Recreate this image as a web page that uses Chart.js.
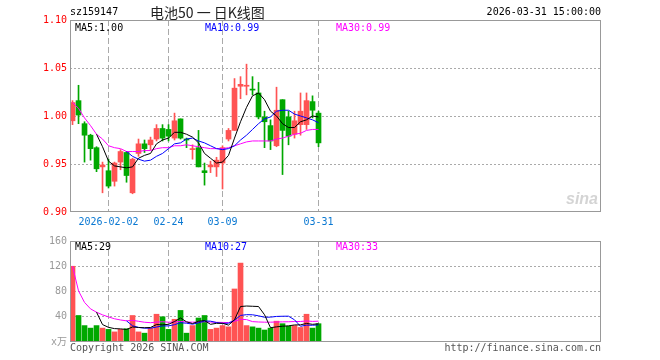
<!DOCTYPE html>
<html lang="zh-CN">
<head>
<meta charset="utf-8">
<title>电池50 日K线图</title>
<script src="https://cdn.jsdelivr.net/npm/chart.js@4.4.1/dist/chart.umd.min.js"></script>
<style>
    html, body { margin: 0; padding: 0; background: #fff; }
    #wrap {
        position: relative;
        width: 660px;
        height: 360px;
        overflow: hidden;
        font-family: "DejaVu Sans Mono", monospace;
        font-size: 10px;
    }
    #wrap canvas { position: absolute; left: 0; }
    .txt { position: absolute; white-space: pre; line-height: 12px; }
    .title { font-family: "Noto Sans CJK SC", sans-serif; font-size: 14px; line-height: 16px; color: #222; }
    .foot { color: #555; }
    .sina { font-family: "Liberation Sans", sans-serif; font-style: italic; font-weight: bold; font-size: 16px; color: #d4d4d4; line-height: 18px; }
</style>
</head>
<body>
<div id="wrap">
    <canvas id="priceChart" width="660" height="230" style="top:0"></canvas>
    <canvas id="volumeChart" width="660" height="130" style="top:230px"></canvas>

    <div class="txt" style="left:70px;top:6px;">sz159147</div>
    <div class="txt title" style="left:150px;top:4px;">电池50 一 日K线图</div>
    <div class="txt" style="right:59px;top:6px;">2026-03-31 15:00:00</div>

    <div class="txt" style="left:75px;top:22px;color:#000;">MA5:1.00</div>
    <div class="txt" style="left:205px;top:22px;color:#0000ff;">MA10:0.99</div>
    <div class="txt" style="left:336px;top:22px;color:#ff00ff;">MA30:0.99</div>

    <div class="txt" style="left:75px;top:241px;color:#000;">MA5:29</div>
    <div class="txt" style="left:205px;top:241px;color:#0000ff;">MA10:27</div>
    <div class="txt" style="left:336px;top:241px;color:#ff00ff;">MA30:33</div>

    <div class="txt sina" style="left:566px;top:190px;">sina</div>

    <div class="txt foot" style="left:70px;top:342px;">Copyright 2026 SINA.COM</div>
    <div class="txt foot" style="right:59px;top:342px;">http://finance.sina.com.cn</div>
</div>

<script>
/* ========================================
   DAILY K-LINE DATA (sz159147)
   ======================================== */

// one entry per trading day, 2026-01-23 .. 2026-03-31
const opens  = [0.995, 1.016, 0.992, 0.980, 0.967, 0.947, 0.943, 0.932, 0.952, 0.962,
                0.920, 0.961, 0.971, 0.970, 0.976, 0.987, 0.986, 0.977, 0.997, 0.976,
                0.965, 0.967, 0.943, 0.947, 0.947, 0.951, 0.976, 0.985, 1.031, 1.031,
                1.028, 1.024, 0.999, 0.990, 0.969, 1.017, 0.999, 0.981, 0.991, 0.991,
                1.015, 1.003];
const highs  = [1.016, 1.032, 0.994, 0.981, 0.968, 0.952, 0.955, 0.952, 0.965, 0.963,
                0.956, 0.976, 0.975, 0.978, 0.991, 0.991, 0.991, 1.003, 0.997, 0.977,
                0.970, 0.985, 0.951, 0.953, 0.957, 0.969, 0.987, 1.039, 1.041, 1.054,
                1.041, 1.035, 1.005, 0.996, 1.030, 1.017, 1.005, 1.005, 1.024, 1.024,
                1.021, 1.005];
const lows   = [0.991, 0.992, 0.952, 0.954, 0.942, 0.920, 0.925, 0.927, 0.944, 0.931,
                0.919, 0.958, 0.962, 0.965, 0.974, 0.974, 0.974, 0.975, 0.976, 0.967,
                0.955, 0.947, 0.928, 0.941, 0.937, 0.924, 0.974, 0.985, 1.018, 1.022,
                1.022, 0.997, 0.967, 0.965, 0.968, 0.939, 0.970, 0.977, 0.980, 0.986,
                0.998, 0.968];
const closes = [1.014, 1.001, 0.980, 0.966, 0.945, 0.949, 0.927, 0.951, 0.963, 0.938,
                0.955, 0.971, 0.966, 0.975, 0.987, 0.977, 0.979, 0.995, 0.977, 0.975,
                0.966, 0.947, 0.941, 0.949, 0.954, 0.967, 0.985, 1.029, 1.033, 1.032,
                1.027, 0.999, 0.994, 0.974, 1.006, 0.985, 0.979, 0.995, 1.005, 1.016,
                1.006, 0.972];

// moving averages of the close, as plotted
const ma5  = [null, null, null, null, 0.981, 0.968, 0.953, 0.948, 0.947, 0.946,
              0.947, 0.956, 0.959, 0.961, 0.971, 0.975, 0.977, 0.983, 0.983, 0.981,
              0.978, 0.972, 0.961, 0.956, 0.951, 0.952, 0.959, 0.977, 0.994, 1.009,
              1.021, 1.024, 1.017, 1.005, 1.000, 0.992, 0.988, 0.988, 0.994, 0.996,
              1.000, 0.999];
const ma10 = [null, null, null, null, null, null, null, null, null, 0.963,
              0.958, 0.955, 0.953, 0.954, 0.958, 0.961, 0.966, 0.971, 0.972, 0.976,
              0.977, 0.974, 0.972, 0.969, 0.966, 0.965, 0.966, 0.969, 0.975, 0.980,
              0.986, 0.992, 0.997, 0.999, 1.005, 1.006, 1.006, 1.002, 1.000, 0.998,
              0.996, 0.993];
const ma30 = [1.014, 1.008, 0.998, 0.990, 0.981, 0.976, 0.969, 0.967, 0.966, 0.963,
              0.963, 0.963, 0.964, 0.964, 0.966, 0.967, 0.967, 0.969, 0.969, 0.970,
              0.969, 0.968, 0.967, 0.966, 0.966, 0.966, 0.967, 0.969, 0.971, 0.973,
              0.974, 0.974, 0.974, 0.974, 0.976, 0.977, 0.979, 0.981, 0.982, 0.985,
              0.986, 0.986];

// volume, in 10k lots
const volumes  = [120, 42, 26, 22, 26, 22, 20, 16, 20, 21,
                  42, 16, 14, 22, 44, 40, 20, 36, 50, 14,
                  26, 38, 42, 20, 22, 26, 24, 84, 125, 26,
                  24, 22, 19, 22, 33, 29, 25, 26, 23, 44,
                  22, 29];
const volMa5   = [null, null, null, null, 47.2, 27.6, 23.2, 21.2, 20.8, 19.8,
                  23.8, 23.0, 22.6, 23.0, 27.6, 27.2, 28.0, 32.4, 38.0, 32.0,
                  29.2, 32.8, 34.0, 28.0, 29.6, 29.6, 26.8, 35.2, 56.2, 57.0,
                  56.6, 56.2, 43.2, 22.6, 24.0, 25.0, 25.6, 27.0, 27.2, 29.4,
                  28.0, 28.8];
const volMa10  = [null, null, null, null, null, null, null, null, null, 33.5,
                  25.7, 23.1, 21.9, 21.9, 23.7, 25.5, 25.5, 27.5, 30.5, 29.8,
                  28.2, 30.4, 33.2, 33.0, 30.8, 29.4, 29.8, 34.6, 42.1, 43.3,
                  43.1, 41.5, 39.2, 39.4, 40.5, 40.8, 40.9, 35.1, 24.9, 26.7,
                  26.5, 27.2];
const volMa30  = [120, 81.0, 62.7, 52.5, 47.2, 43.0, 39.7, 36.8, 34.9, 33.5,
                  34.3, 32.8, 31.3, 30.6, 31.5, 32.1, 31.4, 31.6, 32.6, 31.7,
                  31.4, 31.7, 32.1, 31.6, 31.2, 31.0, 30.8, 32.7, 35.9, 35.5,
                  32.3, 31.7, 31.4, 31.4, 31.7, 31.9, 32.1, 32.4, 32.5, 33.3,
                  32.6, 33.0];

// x-axis date marks (index of the trading day) and their labels
const dateIndex  = [6, 16, 25, 41];
const dateLabels = ['2026-02-02', '02-24', '03-09', '03-31'];

// y-axis ticks
const priceTicks  = [0.90, 0.95, 1.00, 1.05, 1.10];
const volumeTicks = [0, 40, 80, 120, 160];
const volumeTickLabels = ['x万', '40', '80', '120', '160'];

/* ========================================
   STYLE
   ======================================== */

const UP_COLOR = '#ff5353';
const DOWN_COLOR = '#00a800';
const GRID_COLOR = '#aaaaaa';
const TICK_FONT = { family: 'DejaVu Sans Mono', size: 10 };

// x range covers the full ~88 day window, only 42 days are filled
const X_MIN = -0.42;
const X_MAX = 88.08;

const candleColors = closes.map((c, i) => (c >= opens[i] ? UP_COLOR : DOWN_COLOR));

function toPoints(arr) {
    return arr.map((v, i) => ({ x: i, y: v }));
}

// Grey frame round each panel
const panelBorder = {
    id: 'panelBorder',
    afterDraw(chart) {
        const a = chart.chartArea;
        const ctx = chart.ctx;
        ctx.save();
        ctx.strokeStyle = '#999999';
        ctx.lineWidth = 1;
        ctx.strokeRect(Math.round(a.left) + 0.5, Math.round(a.top) + 0.5,
                       Math.round(a.right - a.left) - 1, Math.round(a.bottom - a.top) - 1);
        ctx.restore();
    }
};

function dateAxis(showLabels) {
    return {
        type: 'linear',
        min: X_MIN,
        max: X_MAX,
        offset: false,
        afterBuildTicks: s => { s.ticks = dateIndex.map(v => ({ value: v })); },
        afterFit: s => { s.height = 18; },
        ticks: {
            display: showLabels,
            autoSkip: false,
            maxRotation: 0,
            padding: 4,
            color: '#0a78d2',
            font: TICK_FONT,
            callback: v => dateLabels[dateIndex.indexOf(v)]
        },
        grid: { offset: false, color: GRID_COLOR, lineWidth: 1, drawTicks: false },
        border: { display: false, dash: [6, 3] }
    };
}

function lineSet(label, data, color) {
    return {
        type: 'line',
        label: label,
        data: toPoints(data),
        borderColor: color,
        borderWidth: 1,
        pointRadius: 0,
        tension: 0,
        order: 0
    };
}

const baseOptions = {
    responsive: false,
    animation: false,
    events: [],
    plugins: {
        legend: { display: false },
        tooltip: { enabled: false }
    }
};

/* ========================================
   PRICE PANEL
   ======================================== */

function initPriceChart() {
    const ctx = document.getElementById('priceChart');

    new Chart(ctx.getContext('2d'), {
        type: 'bar',
        data: {
            datasets: [
                lineSet('MA5', ma5, '#000000'),
                lineSet('MA10', ma10, '#0000ff'),
                lineSet('MA30', ma30, '#ff00ff'),
                {
                    label: 'body',
                    data: opens.map((o, i) => ({ x: i, y: [o, closes[i]] })),
                    backgroundColor: candleColors,
                    grouped: false,
                    barPercentage: 1,
                    categoryPercentage: 1,
                    maxBarThickness: 5,
                    minBarLength: 1,
                    order: 1
                },
                {
                    label: 'wick',
                    data: lows.map((l, i) => ({ x: i, y: [l, highs[i]] })),
                    backgroundColor: candleColors,
                    grouped: false,
                    barPercentage: 1,
                    categoryPercentage: 1,
                    maxBarThickness: 1,
                    order: 2
                }
            ]
        },
        options: {
            ...baseOptions,
            layout: { padding: { top: 20, right: 59, bottom: 0, left: 0 } },
            scales: {
                x: dateAxis(true),
                y: {
                    min: 0.90,
                    max: 1.10,
                    afterBuildTicks: s => { s.ticks = priceTicks.map(v => ({ value: v })); },
                    afterFit: s => { s.width = 70; },
                    ticks: {
                        color: '#ff0000',
                        padding: 3,
                        font: TICK_FONT,
                        callback: v => Number(v).toFixed(2)
                    },
                    grid: {
                        drawTicks: false,
                        color: c => (c.index === 0 || c.index === priceTicks.length - 1) ? 'rgba(0,0,0,0)' : GRID_COLOR
                    },
                    border: { display: false, dash: [2, 2] }
                }
            }
        },
        plugins: [panelBorder]
    });
}

/* ========================================
   VOLUME PANEL
   ======================================== */

function initVolumeChart() {
    const ctx = document.getElementById('volumeChart');

    new Chart(ctx.getContext('2d'), {
        type: 'bar',
        data: {
            datasets: [
                lineSet('MA5', volMa5, '#000000'),
                lineSet('MA10', volMa10, '#0000ff'),
                lineSet('MA30', volMa30, '#ff00ff'),
                {
                    label: 'volume',
                    data: toPoints(volumes),
                    backgroundColor: candleColors,
                    grouped: false,
                    barPercentage: 1,
                    categoryPercentage: 1,
                    maxBarThickness: 5,
                    order: 1
                }
            ]
        },
        options: {
            ...baseOptions,
            layout: { padding: { top: 11, right: 59, bottom: 0, left: 0 } },
            scales: {
                x: dateAxis(false),
                y: {
                    min: 0,
                    max: 160,
                    afterBuildTicks: s => { s.ticks = volumeTicks.map(v => ({ value: v })); },
                    afterFit: s => { s.width = 70; },
                    ticks: {
                        color: '#999999',
                        padding: 3,
                        font: TICK_FONT,
                        callback: v => volumeTickLabels[volumeTicks.indexOf(v)]
                    },
                    grid: {
                        drawTicks: false,
                        color: c => (c.index === 0 || c.index === volumeTicks.length - 1) ? 'rgba(0,0,0,0)' : GRID_COLOR
                    },
                    border: { display: false, dash: [2, 2] }
                }
            }
        },
        plugins: [panelBorder]
    });
}

// Initialize when DOM is ready
document.addEventListener('DOMContentLoaded', function() {
    initPriceChart();
    initVolumeChart();
});
</script>
</body>
</html>
